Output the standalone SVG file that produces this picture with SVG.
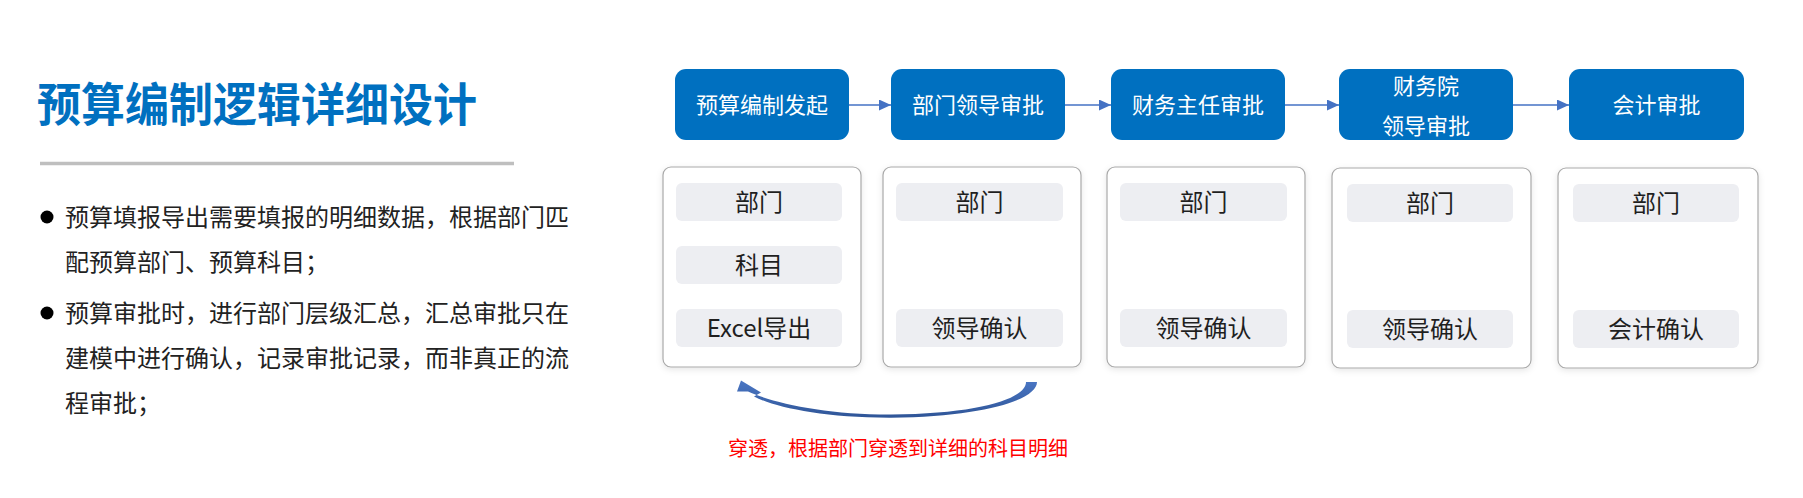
<svg xmlns="http://www.w3.org/2000/svg" width="1803" height="498" viewBox="0 0 1803 498">
  <defs>
    <style>
      .cjk { font-family: "Noto Sans CJK SC", "Liberation Sans", sans-serif; }
      .title { font-size: 46px; font-weight: 700; fill: #0070C0; }
      .bullet { font-size: 24px; fill: #222222; }
      .step { fill: #0070C0; }
      .steptxt { font-size: 22px; fill: #ffffff; text-anchor: middle; }
      .card { fill: #ffffff; stroke: #a9a9a9; stroke-width: 1.2; filter: url(#shadow); }
      .pill { fill: #EDEEF2; }
      .pilltxt { font-size: 24px; fill: #1f1f1f; text-anchor: middle; }
      .conn { stroke: #4472C4; stroke-width: 1.5; fill: none; marker-end: url(#arrow); }
      .note { font-size: 20px; fill: #FF0000; text-anchor: middle; }
    </style>
    <marker id="arrow" markerUnits="userSpaceOnUse" markerWidth="12" markerHeight="11" refX="12" refY="5.5" orient="auto">
      <path d="M0,0 L12,5.5 L0,11 z" fill="#4472C4"/>
    </marker>
    <filter id="shadow" x="-10%" y="-10%" width="120%" height="120%">
      <feDropShadow dx="0" dy="2" stdDeviation="3" flood-color="#000000" flood-opacity="0.10"/>
    </filter>
    <linearGradient id="curveGrad" x1="0" y1="0" x2="0" y2="1">
      <stop offset="0" stop-color="#4A76C4"/>
      <stop offset="1" stop-color="#2F5597"/>
    </linearGradient>
  </defs>

  <rect width="1803" height="498" fill="#ffffff"/>

  <!-- Left: title and bullets -->
  <g id="title">
    <text class="cjk title" x="37" y="120.5" textLength="440" lengthAdjust="spacingAndGlyphs">预算编制逻辑详细设计</text>
    <line x1="40" y1="163.5" x2="514" y2="163.5" stroke="#BFBFBF" stroke-width="3.5"/>
  </g>

  <g id="bullets">
    <circle cx="47" cy="217" r="6.5" fill="#000000"/>
    <text class="cjk bullet" x="65" y="226">预算填报导出需要填报的明细数据，根据部门匹</text>
    <text class="cjk bullet" x="65" y="271">配预算部门、预算科目；</text>
    <circle cx="47" cy="313" r="6.5" fill="#000000"/>
    <text class="cjk bullet" x="65" y="322">预算审批时，进行部门层级汇总，汇总审批只在</text>
    <text class="cjk bullet" x="65" y="367">建模中进行确认，记录审批记录，而非真正的流</text>
    <text class="cjk bullet" x="65" y="412">程审批；</text>
  </g>

  <!-- Connectors -->
  <g id="connectors">
    <line class="conn" x1="849" y1="105" x2="891" y2="105"/>
    <line class="conn" x1="1065" y1="105" x2="1111" y2="105"/>
    <line class="conn" x1="1285" y1="105" x2="1339" y2="105"/>
    <line class="conn" x1="1513" y1="105" x2="1569" y2="105"/>
    <path id="drill-arrow" fill="url(#curveGrad)" d="M1026,382 L1037,382 C1037,399 988,416.5 891,417.8 C822,418 774,407 754,396.5 L761,392.5 L741,380.5 L737,391.5 L748,391.5 C772,402.5 826,414.8 891,414.6 C982,413.8 1026,398 1026,382 Z"/>
  </g>

  <!-- Step nodes -->
  <g id="step1">
    <rect class="step" x="675" y="69" width="174" height="71" rx="11"/>
    <text class="cjk steptxt" x="762" y="113">预算编制发起</text>
  </g>
  <g id="step2">
    <rect class="step" x="891" y="69" width="174" height="71" rx="11"/>
    <text class="cjk steptxt" x="978" y="113">部门领导审批</text>
  </g>
  <g id="step3">
    <rect class="step" x="1111" y="69" width="174" height="71" rx="11"/>
    <text class="cjk steptxt" x="1198" y="113">财务主任审批</text>
  </g>
  <g id="step4">
    <rect class="step" x="1339" y="69" width="174" height="71" rx="11"/>
    <text class="cjk steptxt" x="1426" y="93.5">财务院</text>
    <text class="cjk steptxt" x="1426" y="133.5">领导审批</text>
  </g>
  <g id="step5">
    <rect class="step" x="1569" y="69" width="175" height="71" rx="11"/>
    <text class="cjk steptxt" x="1656.5" y="113">会计审批</text>
  </g>

  <!-- Detail cards -->
  <g id="card1">
    <rect class="card" x="663" y="167" width="198" height="200" rx="8"/>
    <rect class="pill" x="676" y="183" width="166" height="38" rx="6"/>
    <text class="cjk pilltxt" x="759" y="211">部门</text>
    <rect class="pill" x="676" y="246" width="166" height="38" rx="6"/>
    <text class="cjk pilltxt" x="759" y="274">科目</text>
    <rect class="pill" x="676" y="309" width="166" height="38" rx="6"/>
    <text class="cjk pilltxt" x="759" y="337">Excel导出</text>
  </g>
  <g id="card2">
    <rect class="card" x="883" y="167" width="198" height="200" rx="8"/>
    <rect class="pill" x="896" y="183" width="167" height="38" rx="6"/>
    <text class="cjk pilltxt" x="979.5" y="211">部门</text>
    <rect class="pill" x="896" y="309" width="167" height="38" rx="6"/>
    <text class="cjk pilltxt" x="979.5" y="337">领导确认</text>
  </g>
  <g id="card3">
    <rect class="card" x="1107" y="167" width="198" height="200" rx="8"/>
    <rect class="pill" x="1120" y="183" width="167" height="38" rx="6"/>
    <text class="cjk pilltxt" x="1203.5" y="211">部门</text>
    <rect class="pill" x="1120" y="309" width="167" height="38" rx="6"/>
    <text class="cjk pilltxt" x="1203.5" y="337">领导确认</text>
  </g>
  <g id="card4">
    <rect class="card" x="1332" y="168" width="199" height="200" rx="8"/>
    <rect class="pill" x="1347" y="184" width="166" height="38" rx="6"/>
    <text class="cjk pilltxt" x="1430" y="212">部门</text>
    <rect class="pill" x="1347" y="310" width="166" height="38" rx="6"/>
    <text class="cjk pilltxt" x="1430" y="338">领导确认</text>
  </g>
  <g id="card5">
    <rect class="card" x="1558" y="168" width="200" height="200" rx="8"/>
    <rect class="pill" x="1573" y="184" width="166" height="38" rx="6"/>
    <text class="cjk pilltxt" x="1656" y="212">部门</text>
    <rect class="pill" x="1573" y="310" width="166" height="38" rx="6"/>
    <text class="cjk pilltxt" x="1656" y="338">会计确认</text>
  </g>

  <g id="note">
    <text class="cjk note" x="898" y="456">穿透，根据部门穿透到详细的科目明细</text>
  </g>
</svg>
